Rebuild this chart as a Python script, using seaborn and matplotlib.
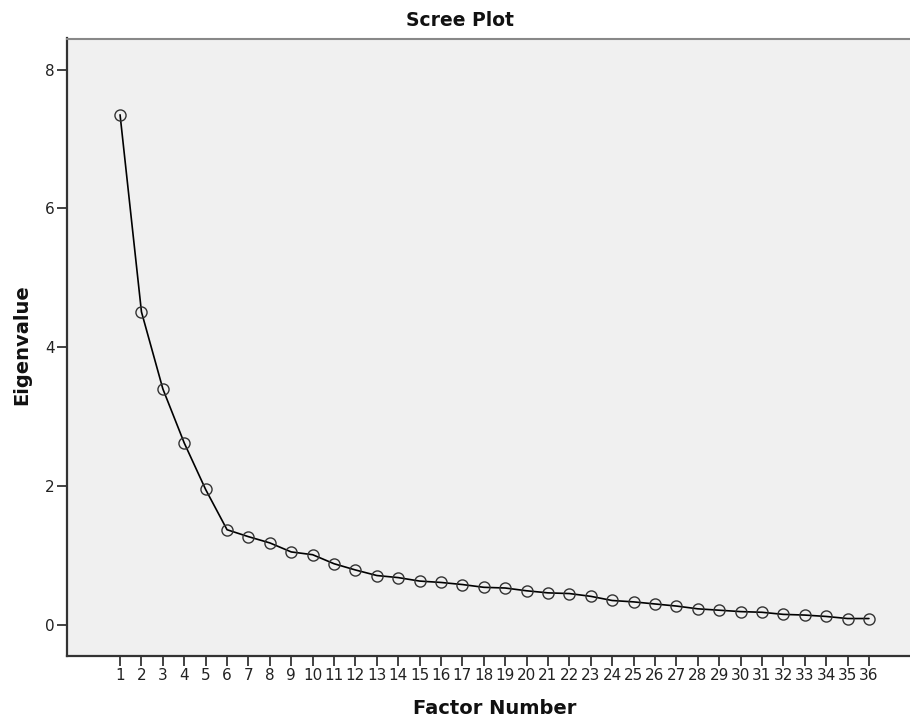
import matplotlib
matplotlib.use("Agg")
import matplotlib.pyplot as plt
import seaborn as sns
import pandas as pd

factors = list(range(1, 37))
eigenvalues = [7.35, 4.51, 3.40, 2.62, 1.95, 1.37, 1.27, 1.18, 1.05, 1.01,
               0.88, 0.79, 0.71, 0.68, 0.63, 0.61, 0.58, 0.54, 0.53, 0.49,
               0.46, 0.45, 0.41, 0.35, 0.33, 0.30, 0.27, 0.23, 0.21, 0.19,
               0.18, 0.15, 0.14, 0.12, 0.09, 0.09]
y_ticks = [0, 2, 4, 6, 8]

sns.set_style("white")
plt.rcParams['font.family'] = ['DejaVu Sans']

df = pd.DataFrame({"Factor Number": factors, "Eigenvalue": eigenvalues})

fig = plt.figure(figsize=(9.1, 7.27), dpi=100)
ax = fig.add_axes([67/910, 1 - 656/727, 1 - 67/910, (656 - 38.5)/727])
ax.set_facecolor("#f0f0f0")

sns.lineplot(data=df, x="Factor Number", y="Eigenvalue", ax=ax,
             color="black", linewidth=1.2, marker="o", markersize=8,
             markerfacecolor="none", markeredgecolor="#333333",
             markeredgewidth=1.0)

ax.set_xlim(-1.48, 37.92)
ax.set_ylim(-0.45, 8.45)
ax.set_xticks(factors)
ax.set_xticklabels([str(f) for f in factors])
ax.set_yticks(y_ticks)
ax.set_yticklabels([str(t) for t in y_ticks])
ax.tick_params(axis="both", direction="out", length=7, width=1.2,
               color="#222222", labelsize=11, labelcolor="#222222", pad=2,
               bottom=True, left=True)

for s in ["left", "bottom"]:
    ax.spines[s].set_color("#333333")
    ax.spines[s].set_linewidth(1.6)
ax.spines["top"].set_color("#888888")
ax.spines["top"].set_linewidth(1.5)
ax.spines["right"].set_visible(False)

ax.set_xlabel("")
ax.set_ylabel("")
fig.text(495/910, 1 - 708/727, "Factor Number", ha="center", va="center",
         fontsize=14, fontweight="bold", color="#111111")
fig.text(22/910, 1 - 345/727, "Eigenvalue", ha="center", va="center",
         rotation=90, fontsize=14, fontweight="bold", color="#111111")
fig.text(460/910, 1 - 20/727, "Scree Plot", ha="center", va="center",
         fontsize=13.5, fontweight="bold", color="#111111")

fig.savefig("out.png", dpi=100, facecolor="white")
